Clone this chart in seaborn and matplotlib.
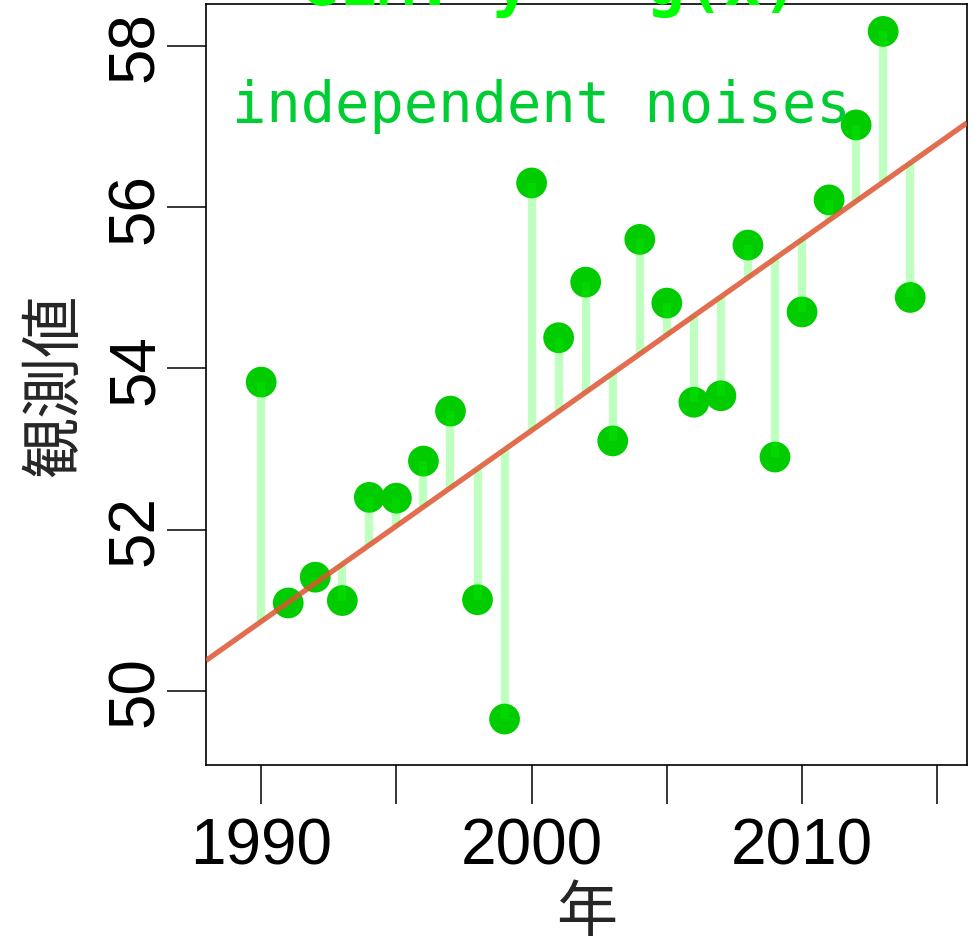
import numpy as np
import pandas as pd
import matplotlib
matplotlib.use("Agg")
import matplotlib.pyplot as plt
import seaborn as sns

# observations per year
years = [1990, 1991, 1992, 1993, 1994, 1995, 1996, 1997, 1998, 1999,
         2000, 2001, 2002, 2003, 2004, 2005, 2006, 2007, 2008, 2009,
         2010, 2011, 2012, 2013, 2014]
values = [53.83, 51.09, 51.41, 51.12, 52.40, 52.39, 52.85, 53.47, 51.13, 49.65,
          56.30, 54.38, 55.07, 53.10, 55.60, 54.81, 53.58, 53.66, 55.53, 52.90,
          54.70, 56.09, 57.02, 58.18, 54.88]

# underlying trend line: value = intercept + slope * (year - 1990)
trend_intercept = 50.86
trend_slope = 0.237

x_ticks = [1990, 1995, 2000, 2005, 2010, 2015]
x_tick_labels = ["1990", "", "2000", "", "2010", ""]
y_ticks = [50, 52, 54, 56, 58]
y_tick_labels = ["50", "52", "54", "56", "58"]

title_text = "GLM: y ~ g(x)"
note_text = "independent noises"
x_label = "年"
y_label = "観測値"

df = pd.DataFrame({"year": years, "value": values})
df["trend"] = trend_intercept + trend_slope * (df["year"] - 1990)

sns.set_theme(style="ticks")
plt.rcParams["font.family"] = ["Liberation Sans", "Noto Sans CJK JP", "DejaVu Sans"]

W, H = 975, 945
fig = plt.figure(figsize=(W / 100, H / 100), dpi=100)
ax = fig.add_axes([206 / W, 1 - 766 / H, (967 - 206) / W, (766 - 5) / H])

# points
sns.scatterplot(data=df, x="year", y="value", ax=ax, s=490, color="#00CC00",
                edgecolor="none", linewidth=0, zorder=2, legend=False)

# residual segments from trend to each observation
ax.vlines(df["year"], df["trend"], df["value"], colors="#00FF00", alpha=0.25,
          linewidth=6, zorder=3)

# trend line across the whole plotting range
xlim = (1987.96, 2016.1)
ylim = (49.08, 58.52)
ax.set_xlim(*xlim)
ax.set_ylim(*ylim)
line_x = np.array(xlim)
line_y = trend_intercept + trend_slope * (line_x - 1990)
ax.plot(line_x, line_y, color="#DD5530", alpha=0.85, linewidth=3.8, zorder=4,
        solid_capstyle="butt")

# axes frame and ticks
for sp in ax.spines.values():
    sp.set_visible(True)
    sp.set_linewidth(1.2)
    sp.set_color("black")
ax.set_xticks(x_ticks)
ax.set_xticklabels(x_tick_labels)
ax.set_yticks(y_ticks)
ax.set_yticklabels(y_tick_labels, rotation=90, va="center")
ax.tick_params(axis="both", direction="out", length=28, width=1.1,
               colors="black", labelsize=46)
ax.tick_params(axis="x", pad=9)
ax.tick_params(axis="y", pad=1)

ax.set_xlabel(x_label, fontsize=44, family=["Noto Sans CJK JP", "DejaVu Sans"],
              va="center")
ax.xaxis.set_label_coords(0.5, (H - 914 - 179) / 761)
ax.set_ylabel(y_label, fontsize=44, family=["Noto Sans CJK JP", "DejaVu Sans"],
              va="center")
ax.yaxis.set_label_coords((55 - 206) / 761, 0.5)

# annotations
fig.text(300 / W, 1 - 5 / H, title_text, fontsize=46, color="#00FF00",
         family=["DejaVu Sans Mono"], fontweight="bold", ha="left", va="baseline")
ax.text(232 / W, 1 - 122 / H, note_text, transform=fig.transFigure,
        fontsize=41, color="#00CC33", family=["DejaVu Sans Mono"],
        ha="left", va="baseline", zorder=5)

ax.grid(False)
fig.savefig("out.png", dpi=100)
